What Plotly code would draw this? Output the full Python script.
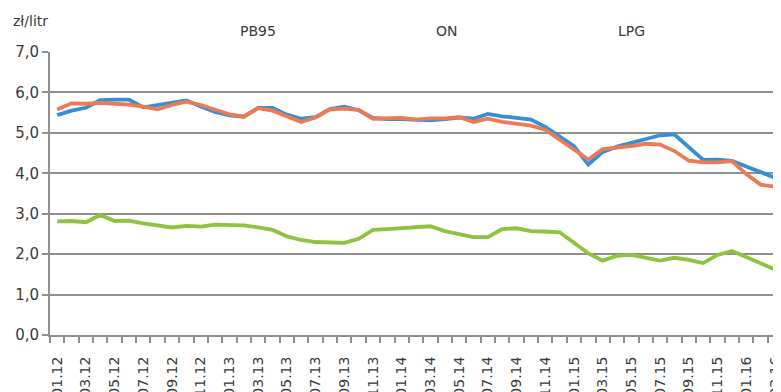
import plotly.graph_objects as go

# Monthly categories 01.12 .. 03.16
months = [f"{m:02d}.{y:02d}" for y in range(12, 17) for m in range(1, 13)]
months = months[:months.index("03.16") + 1]

pb95 = [5.44, 5.55, 5.62, 5.81, 5.82, 5.82, 5.63, 5.68, 5.74, 5.80,
        5.65, 5.52, 5.43, 5.40, 5.62, 5.62, 5.45, 5.35, 5.39, 5.59,
        5.65, 5.56, 5.37, 5.34, 5.34, 5.33, 5.31, 5.34, 5.38, 5.35,
        5.47, 5.41, 5.36, 5.33, 5.15, 4.92, 4.67, 4.22, 4.53, 4.66,
        4.76, 4.86, 4.94, 4.96, 4.66, 4.33, 4.34, 4.31, 4.17, 4.04,
        3.89]
on = [5.58, 5.73, 5.72, 5.74, 5.72, 5.70, 5.65, 5.58, 5.69, 5.77,
      5.69, 5.58, 5.46, 5.40, 5.61, 5.55, 5.40, 5.27, 5.38, 5.58,
      5.60, 5.57, 5.35, 5.36, 5.37, 5.33, 5.36, 5.36, 5.39, 5.27,
      5.35, 5.27, 5.23, 5.18, 5.08, 4.84, 4.58, 4.34, 4.60, 4.63,
      4.67, 4.73, 4.71, 4.55, 4.31, 4.27, 4.27, 4.30, 3.98, 3.72,
      3.67]
lpg = [2.81, 2.82, 2.79, 2.97, 2.82, 2.83, 2.76, 2.70, 2.66, 2.70,
       2.68, 2.73, 2.73, 2.71, 2.66, 2.60, 2.44, 2.35, 2.30, 2.28,
       2.28, 2.38, 2.60, 2.62, 2.64, 2.66, 2.69, 2.57, 2.49, 2.42,
       2.42, 2.62, 2.64, 2.57, 2.56, 2.54, 2.28, 2.02, 1.84, 1.96,
       1.98, 1.92, 1.84, 1.91, 1.86, 1.78, 1.98, 2.08, 1.93, 1.76,
       1.62]

series_names = ["PB95", "ON", "LPG"]
series_values = [pb95, on, lpg]
series_colors = ["#3490D4", "#EE7A55", "#8DC33E"]

y_ticks = [0, 1, 2, 3, 4, 5, 6, 7]
unit_label = "zł/litr"

GRID = "#8f8f8f"
TEXT = "#3a3a3a"
FONT = "DejaVu Sans"

idx = list(range(len(months)))

fig = go.Figure()
for name, vals, col in zip(series_names, series_values, series_colors):
    fig.add_trace(go.Scatter(x=idx, y=vals, mode="lines", name=name,
                             line=dict(color=col, width=3.8),
                             hoverinfo="x+y+name"))

label_idx = idx[::2]
fig.update_xaxes(
    range=[-0.5, 50.42],
    tickmode="array", tickvals=label_idx,
    ticktext=[months[i] for i in label_idx],
    tickangle=-90, ticks="outside", ticklen=6,
    tickcolor="rgba(0,0,0,0)",
    ticklabelstandoff=8, ticklabeloverflow="allow",
    tickfont=dict(family=FONT, size=14, color=TEXT),
    showgrid=False, zeroline=False,
    showline=True, linecolor=GRID, linewidth=2,
    minor=dict(tickmode="array", tickvals=[i - 0.5 for i in range(len(months) + 1)],
               ticks="outside", ticklen=6, tickcolor=GRID, tickwidth=2),
    fixedrange=True,
)
fig.update_yaxes(
    range=[0, 7], tickvals=y_ticks, tickformat=".1f",
    ticks="outside", ticklen=6, tickcolor=GRID, tickwidth=2,
    tickfont=dict(family=FONT, size=15, color=TEXT),
    showgrid=True, gridcolor=GRID, gridwidth=2,
    zeroline=False, showline=True, linecolor=GRID, linewidth=2,
    fixedrange=True,
)

# plot area: x 42..773, y 44..327 in figure pixels (page body adds an 8px offset)
annots = [
    dict(text=unit_label, x=0.0, y=1.11, xanchor="right", font=dict(size=14)),
    dict(text=series_names[0], x=0.2845, y=1.074),
    dict(text=series_names[1], x=0.543, y=1.074),
    dict(text=series_names[2], x=0.796, y=1.074),
]
for a in annots:
    f = dict(family=FONT, size=14, color=TEXT)
    f.update(a.pop("font", {}))
    xa = a.pop("xanchor", "center")
    fig.add_annotation(xref="paper", yref="paper", showarrow=False,
                       xanchor=xa, yanchor="middle", font=f, **a)

fig.update_layout(
    width=773, height=384,
    margin=dict(l=42, r=0, t=44, b=57, autoexpand=False),
    paper_bgcolor="white", plot_bgcolor="white",
    showlegend=False, separators=", ",
    font=dict(family=FONT, color=TEXT),
)

fig.write_html("out.html")
